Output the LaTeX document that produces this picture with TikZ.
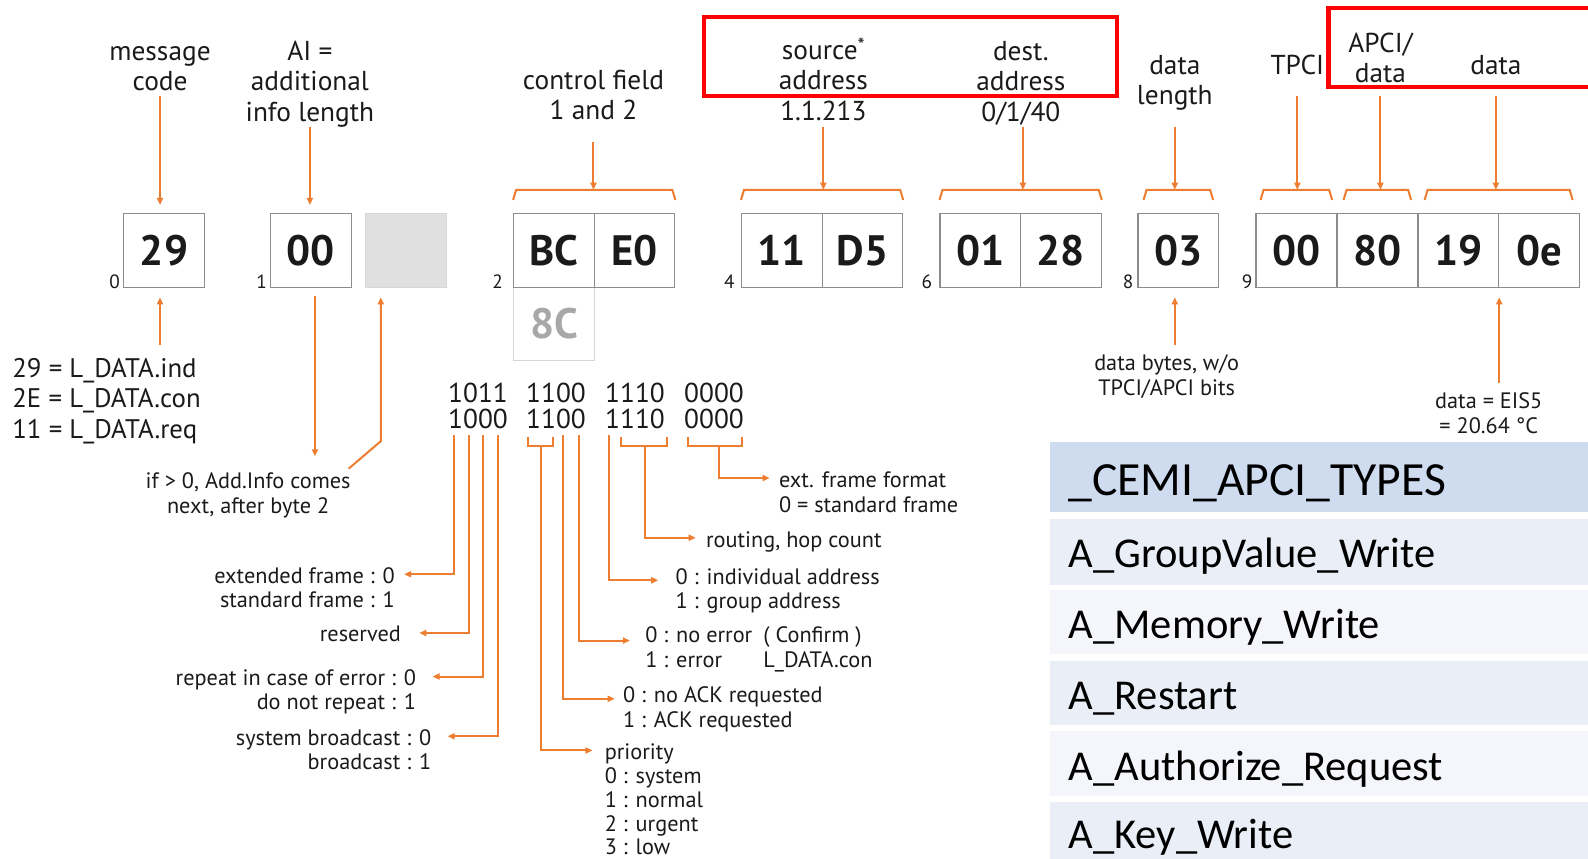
\documentclass[tikz,border=0pt]{standalone}
\usepackage{fontspec}
\setmainfont{PT Sans}
\newfontfamily\tablefont{Carlito}
\usetikzlibrary{arrows.meta}

\definecolor{ink}{HTML}{1A1A1A}
\definecolor{accent}{HTML}{ED7D31}
\definecolor{frame}{HTML}{8C8C8C}
\definecolor{ghost}{HTML}{D6D6D6}
\definecolor{ghosttext}{HTML}{A8A8A8}
\definecolor{padfill}{HTML}{E0E0E0}
\definecolor{hdrfill}{HTML}{CFDCF0}
\definecolor{rowa}{HTML}{E9EEF7}
\definecolor{rowb}{HTML}{F4F6FB}
\definecolor{hilite}{HTML}{FF0000}

\newcommand\fsz[2]{\fontsize{#1}{#2}\selectfont}
% orange bracket over a run of byte boxes: left box, right box, inset
\newcommand\bytebrace[3]{%
  \draw[brace] ([xshift=#3,yshift=13pt]#1.north west)
    -- ([xshift=#3+3pt,yshift=23pt]#1.north west)
    -- ([xshift=-#3-3pt,yshift=23pt]#2.north east)
    -- ([xshift=-#3,yshift=13pt]#2.north east);}

\begin{document}
\begin{tikzpicture}[x=1pt,y=-1pt,
  lbl/.style={font=\fsz{27}{30}, align=center, inner sep=0pt, text=ink},
  byte/.style={draw=frame, line width=1.2pt, minimum width=79.5pt, minimum height=73pt,
    inner sep=0pt, font=\fsz{42}{42}\bfseries, text=ink},
  idx/.style={font=\fsz{19}{19}, inner sep=0pt, text=ink, anchor=base east},
  bits/.style={font=\fsz{27}{26}, align=center, inner sep=0pt, text=ink},
  note/.style={font=\fsz{22}{24}, inner sep=0pt, text=ink},
  conn/.style={draw=accent, line width=2pt, -{Triangle[length=7pt,width=6pt]}},
  brace/.style={draw=accent, line width=2pt},
  hl/.style={draw=hilite, line width=4.5pt},
  tblrow/.style={anchor=north west, inner xsep=18pt, inner ysep=0pt, text width=495pt,
    align=left, font=\tablefont\fsz{42}{42}, text height=32pt, text depth=0pt, text=black},
]
\useasboundingbox (0,0) rectangle (1568,848);

% ---------- field captions ----------
\node[lbl] (msg)  at (158,68)  {message\\code};
\node[lbl] (ai)   at (306,83)  {AI =\\additional\\info length};
\node[lbl] (ctl)  at (586,94)  {control field\\1 and 2};
\node[lbl] (src)  at (813,82)  {source\smash{\raisebox{7pt}{\fsz{20}{20}*}}\\address\\1.1.213};
\node[lbl] (dst)  at (1008,82) {dest.\\address\\0/1/40};
\node[lbl] (dlen) at (1160,82) {data\\length};
\node[lbl] (tpci) at (1281,64) {TPCI};
\node[lbl] (apci) at (1363,57) {APCI/\\data};
\node[lbl] (pay)  at (1477,64) {data};

\draw[hl] (695,17) rectangle (1103,95);
\draw[hl] (1580,8) -- (1312,8) -- (1312,86) -- (1580,86);

% ---------- frame bytes ----------
\node[byte, draw=ghost, text=ghosttext, minimum height=72pt] (b2c) at (547,320) {8C};
\node[byte] (b0)  at (162,247.5)    {29};
\node[byte] (b1)  at (307,247.5)    {00};
\node[byte, fill=padfill, draw=ghost] (bpad) at (401,247.5) {};
\node[byte] (b2a) at (547,247.5)    {BC};
\node[byte] (b2b) at (626.5,247.5)  {E0};
\node[byte] (b4a) at (772,247.5)    {11};
\node[byte] (b4b) at (851.5,247.5)  {D5};
\node[byte] (b6a) at (968,247.5)    {01};
\node[byte] (b6b) at (1047.5,247.5) {28};
\node[byte] (b8)  at (1163.5,247.5) {03};
\node[byte] (b9a) at (1280,247.5)   {00};
\node[byte] (b9b) at (1360,247.5)   {80};
\node[byte] (b9c) at (1440,247.5)   {19};
\node[byte] (b9d) at (1519.5,247.5) {0e};

\node[idx] (i0) at ([xshift=-3pt]b0.south west)  {0};
\node[idx] (i1) at ([xshift=-3pt]b1.south west)  {1};
\node[idx] (i2) at ([xshift=-10pt]b2a.south west) {2};
\node[idx] (i4) at ([xshift=-6pt]b4a.south west) {4};
\node[idx] (i6) at ([xshift=-7pt]b6a.south west) {6};
\node[idx] (i8) at ([xshift=-4pt]b8.south west)  {8};
\node[idx] (i9) at ([xshift=-3pt]b9a.south west) {9};

\bytebrace{b2a}{b2b}{0pt}
\bytebrace{b4a}{b4b}{0pt}
\bytebrace{b6a}{b6b}{0pt}
\bytebrace{b8}{b8}{6pt}
\bytebrace{b9a}{b9a}{5pt}
\bytebrace{b9b}{b9b}{7pt}
\bytebrace{b9c}{b9d}{7pt}

\coordinate (yhi) at (0,95);
\coordinate (ylo) at (0,125);
\draw[conn] (msg.south |- yhi) -- ([yshift=8pt]msg.south |- b0.north);
\draw[conn] (ai.south |- ylo) -- ([yshift=8pt]ai.south |- b1.north);
\draw[conn] ([yshift=-15pt]ctl.south |- ylo) -- ([yshift=23pt]ctl.south |- b2a.north);
\draw[conn] (src.south |- ylo) -- ([yshift=23pt]src.south |- b4a.north);
\draw[conn] ([xshift=2pt]dst.south |- ylo) -- ([xshift=2pt,yshift=23pt]dst.south |- b6a.north);
\draw[conn] (dlen.south |- ylo) -- ([yshift=23pt]dlen.south |- b8.north);
\draw[conn] (tpci.south |- yhi) -- ([yshift=23pt]tpci.south |- b9a.north);
\draw[conn] (apci.south |- yhi) -- ([yshift=23pt]apci.south |- b9b.north);
\draw[conn] (pay.south |- yhi) -- ([yshift=23pt]pay.south |- b9c.north);

% ---------- notes under the bytes ----------
\node[font=\fsz{26.5}{30}, align=left, anchor=west, inner sep=0pt, text=ink] (codes) at (12,396)
  {29 = L\_DATA.ind\\2E = L\_DATA.con\\11 = L\_DATA.req};
\draw[conn] ([xshift=-4pt,yshift=-56pt]b0.south) -- ([xshift=-4pt,yshift=-9pt]b0.south);

\node[note, align=center] (addinfo) at (245,489) {if > 0, Add.Info comes\\next, after byte 2};
\draw[conn] ([xshift=4pt,yshift=-8pt]b1.south) -- ([xshift=4pt,yshift=-166pt]b1.south);
\draw[conn] ([xshift=-2pt,yshift=4pt]addinfo.north east) -- ([xshift=-25pt,yshift=-151pt]bpad.south)
  -- ([xshift=-25pt,yshift=-9pt]bpad.south);

\node[note, align=center] (dbytes) at (1152,372) {data bytes, w/o\\TPCI/APCI bits};
\draw[conn] ([xshift=-3.5pt,yshift=-56pt]b8.south) -- ([xshift=-3.5pt,yshift=-9pt]b8.south);

\node[note, align=center] (eis) at (1470,408) {data = EIS5\\= 20.64 °C};
\draw[conn] ([yshift=-94pt]b9c.south east) -- ([yshift=-9pt]b9c.south east);

% ---------- control field bits ----------
\node[bits] (g1) at (472,401) {1011\\1000};
\node[bits] (g2) at (549,401) {1100\\1100};
\node[bits] (g3) at (627,401) {1110\\1110};
\node[bits] (g4) at (705,401) {0000\\0000};

\coordinate (k1) at (448,430);
\coordinate (k2) at (463,430);
\coordinate (k3) at (477,430);
\coordinate (k4) at (492,430);
\coordinate (k7) at (556,430);
\coordinate (k8) at (571.5,430);
\coordinate (k9) at (601,430);
\draw[brace] (521,431) -- (521,440) -- (546,440) -- (546,431);
\draw[brace] (613,431) -- (613,440) -- (659,440) -- (659,431);
\draw[brace] (679,431) -- (679,440) -- (733,440) -- (733,431);
\coordinate (k56) at (534,440);
\coordinate (k1012) at (637,440);
\coordinate (k1316) at (710,440);

\node[note, align=right, anchor=north east] (ext) at (390,560) {extended frame : 0\\standard frame : 1};
\node[note, anchor=north east] (rsv) at (396,618) {reserved};
\node[note, align=right, anchor=north east] (rpt) at (411,661) {repeat in case of error : 0\\do not repeat : 1};
\node[note, align=right, anchor=north east] (sbc) at (426,720) {system broadcast : 0\\broadcast : 1};
\node[note, align=left, anchor=north west, font=\fsz{22}{23.6}] (prio) at (597,734)
  {priority\\0 : system\\1 : normal\\2 : urgent\\3 : low};
\node[note, align=left, anchor=north west] (ack) at (615,678) {0 : no ACK requested\\1 : ACK requested};
\node[note, align=left, anchor=north west] (err) at (637,619) {0 : no error\\1 : error};
\node[note, align=left, anchor=north west] (errb) at (753.6,619) {( Confirm )\\L\_DATA.con};
\node[note, align=left, anchor=north west] (ind) at (667,561) {0 : individual address\\1 : group address};
\node[note, anchor=north west] (rout) at (697,525) {routing, hop count};
\node[note, align=left, anchor=north west] (extf) at (769,466) {ext. frame format\\0 = standard frame};

\draw[conn] (k1) |- ([xshift=9pt,yshift=-7pt]ext.north east);
\draw[conn] (k2) |- ([xshift=18pt,yshift=-7pt]rsv.north east);
\draw[conn] (k3) |- ([xshift=16pt,yshift=-7pt]rpt.north east);
\draw[conn] (k4) |- ([xshift=16pt,yshift=-7pt]sbc.north east);
\draw[conn] (k56) |- ([xshift=-12pt,yshift=-7pt]prio.north west);
\draw[conn] (k7) |- ([xshift=-8pt,yshift=-12pt]ack.north west);
\draw[conn] (k8) |- ([xshift=-15pt,yshift=-13.5pt]err.north west);
\draw[conn] (k9) |- ([xshift=-17pt,yshift=-12pt]ind.north west);
\draw[conn] (k1012) |- ([xshift=-10pt,yshift=-6pt]rout.north west);
\draw[conn] (k1316) |- ([xshift=-9pt,yshift=-6pt]extf.north west);

% ---------- APCI type table ----------
\node[tblrow, fill=hdrfill, minimum height=69pt, text height=37pt, font=\tablefont\fsz{47}{47}] (th) at (1037,436) {\_CEMI\_APCI\_TYPES};
\node[tblrow, fill=rowa, minimum height=65pt] (r1) at (1037,512) {A\_GroupValue\_Write};
\node[tblrow, fill=rowb, minimum height=64pt] (r2) at (1037,582) {A\_Memory\_Write};
\node[tblrow, fill=rowa, minimum height=64pt] (r3) at (1037,652) {A\_Restart};
\node[tblrow, fill=rowb, minimum height=64pt] (r4) at (1037,722) {A\_Authorize\_Request};
\node[tblrow, fill=rowa, minimum height=60pt] (r5) at (1037,792) {A\_Key\_Write};
\end{tikzpicture}
\end{document}
